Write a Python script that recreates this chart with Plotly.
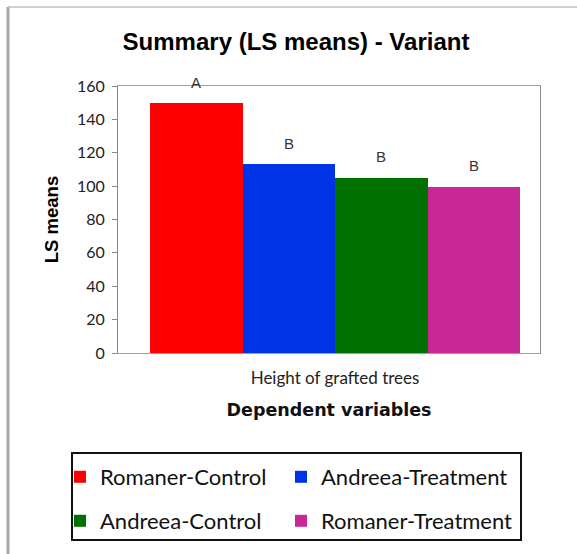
import plotly.graph_objects as go

# LS means of grafted tree height per variant
variants = ['Romaner-Control', 'Andreea-Treatment', 'Andreea-Control', 'Romaner-Treatment']
ls_means = [149.8, 113.2, 104.9, 99.5]
groups = ['A', 'B', 'B', 'B']
bar_colors = ['#FF0000', '#0033E6', '#007000', '#C82896']
positions = [0, 1, 2, 3]

category_label = 'Height of grafted trees'
y_ticks = [0, 20, 40, 60, 80, 100, 120, 140, 160]

W, H = 577, 554
L, R, T, B = 118, 37, 86, 201
PW, PH = W - L - R, H - T - B


def px_x(p):
    return (p - L) / PW


def px_y(p):
    return (H - B - p) / PH


legend_keys = ['legend', 'legend2', 'legend3', 'legend4']
# legend grid: two columns, two rows (pixel anchors)
legend_cols = [60, 281, 60, 281]
legend_rows = [477, 477, 521, 521]

fig = go.Figure()

for i, (name, val, col) in enumerate(zip(variants, ls_means, bar_colors)):
    fig.add_trace(go.Bar(
        x=[positions[i]],
        y=[val],
        width=1,
        name=name,
        marker=dict(color=col, line=dict(width=0)),
        legend=legend_keys[i],
        hovertemplate='%{y:.1f}<extra>' + name + '</extra>'
    ))

# significance letters above bars
for i, (val, g) in enumerate(zip(ls_means, groups)):
    fig.add_annotation(
        x=positions[i], y=val, text=g, showarrow=False,
        yshift=21, font=dict(family='Liberation Sans', size=15, color='#333333')
    )

legend_font = dict(family='Lato', size=22, color='#111111')
legends = {}
for key, lx, ly in zip(legend_keys, legend_cols, legend_rows):
    legends[key] = dict(
        orientation='h', x=px_x(lx), xanchor='left',
        y=px_y(ly), yanchor='middle',
        font=legend_font, bgcolor='rgba(0,0,0,0)', borderwidth=0
    )

# outer frame and legend box
shapes = [
    dict(type='line', xref='paper', yref='paper', x0=px_x(8), x1=px_x(8),
         y0=px_y(7), y1=px_y(554), line=dict(color='#A8A8A8', width=3)),
    dict(type='line', xref='paper', yref='paper', x0=px_x(8), x1=px_x(577),
         y0=px_y(7), y1=px_y(7), line=dict(color='#C0C0C0', width=1.5)),
    dict(type='rect', xref='paper', yref='paper', x0=px_x(72), x1=px_x(521),
         y0=px_y(453), y1=px_y(540), line=dict(color='#111111', width=2)),
]

fig.update_layout(
    width=W, height=H,
    margin=dict(l=L, r=R, t=T, b=B),
    paper_bgcolor='white',
    plot_bgcolor='white',
    title=dict(
        text='<b>Summary (LS means) - Variant</b>',
        x=296 / W, xref='container', xanchor='center',
        y=1 - 42 / H, yref='container', yanchor='middle',
        font=dict(family='Liberation Sans', size=24, color='#000000')
    ),
    xaxis=dict(
        range=[-0.848, 3.717],
        tickvals=[1.5], ticktext=[category_label],
        ticks='', showgrid=False, zeroline=False,
        showline=True, linecolor='#A0A0A0', linewidth=1, mirror=True,
        tickfont=dict(family='Lato', size=17, color='#222222'),
        ticklabelstandoff=10,
        title=dict(text='<b>Dependent variables</b>', standoff=16,
                   font=dict(family='DejaVu Sans', size=17.5, color='#111111'))
    ),
    yaxis=dict(
        range=[0, 160], tickvals=y_ticks,
        ticks='outside', ticklen=5, tickcolor='#888888',
        showgrid=False, zeroline=False,
        showline=True, linecolor='#888888', linewidth=1, mirror=True,
        tickfont=dict(family='Lato', size=16, color='#222222'),
        ticklabelstandoff=4,
        title=dict(text='<b>LS means</b>', standoff=13,
                   font=dict(family='Liberation Sans', size=18.5, color='#000000'))
    ),
    shapes=shapes,
    showlegend=True,
    bargap=0,
    **legends
)

fig.write_html('out.html', config={'displayModeBar': False},
               post_script="document.body.style.margin='0';")
